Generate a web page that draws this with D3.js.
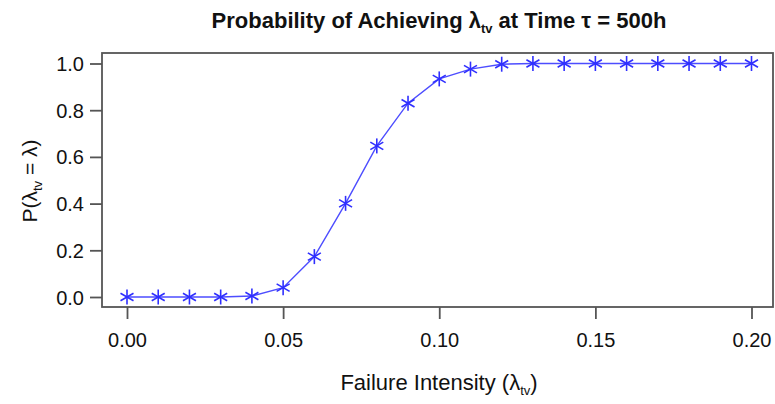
<!DOCTYPE html>
<html><head><meta charset="utf-8">
<script src="https://cdn.jsdelivr.net/npm/d3@7"></script>
<style>body{margin:0;background:#fff}text{font-family:"Liberation Sans",Arial,sans-serif}</style>
</head><body><svg id="c" width="775" height="404"></svg>
<script>
const lambdaValues = [0.00,0.01,0.02,0.03,0.04,0.05,0.06,0.07,0.08,0.09,0.10,0.11,0.12,0.13,0.14,0.15,0.16,0.17,0.18,0.19,0.20];
const probValues = [0,0,0,0,0.004,0.04,0.173,0.401,0.647,0.83,0.934,0.976,0.997,1,1,1,1,1,1,1,1];
const xTicks = [0,0.05,0.10,0.15,0.20];
const yTicks = [0,0.2,0.4,0.6,0.8,1.0];

const svg = d3.select("#c");
const frame = {l:102, t:53, r:773, b:307};
const x = d3.scaleLinear().domain([0,0.2]).range([127,751.5]);
const y = d3.scaleLinear().domain([0,1]).range([297,63.5]);
const axCol = "#555";

svg.append("rect").attr("x",frame.l).attr("y",frame.t).attr("width",frame.r-frame.l).attr("height",frame.b-frame.t)
  .attr("fill","none").attr("stroke",axCol).attr("stroke-width",1.8);

const xa = svg.append("g").attr("transform",`translate(0,${frame.b})`)
  .call(d3.axisBottom(x).tickValues(xTicks).tickFormat(d3.format(".2f")).tickSize(12).tickPadding(14));
const ya = svg.append("g").attr("transform",`translate(${frame.l},0)`)
  .call(d3.axisLeft(y).tickValues(yTicks).tickFormat(d3.format(".1f")).tickSize(12).tickPadding(6));
[xa,ya].forEach(a=>{
  a.select(".domain").remove();
  a.selectAll(".tick line").attr("stroke",axCol).attr("stroke-width",1.8);
  a.selectAll(".tick text").attr("fill","#111").style("font-size","20px");
});
ya.selectAll(".tick text").attr("dy","0.35em");

const data = lambdaValues.map((v,i)=>({x:v,y:probValues[i]}));
svg.append("path").datum(data).attr("fill","none").attr("stroke","#4d4dff").attr("stroke-width",1.4)
  .attr("d", d3.line().x(d=>x(d.x)).y(d=>y(d.y)));

const r = 7.5;
const m = svg.append("g").selectAll("g").data(data).join("g")
  .attr("transform",d=>`translate(${x(d.x)},${y(d.y)})`);
[[0,-r,0,r],[-r*0.866,-r*0.5,r*0.866,r*0.5],[-r*0.866,r*0.5,r*0.866,-r*0.5]].forEach(s=>{
  m.append("line").attr("x1",s[0]).attr("y1",s[1]).attr("x2",s[2]).attr("y2",s[3])
   .attr("stroke","#2f2fff").attr("stroke-width",1.6);
});

// Title
const t = svg.append("text").attr("x",439).attr("y",28).attr("text-anchor","middle")
  .style("font-size","22px").style("font-weight","bold").attr("fill","#111");
t.append("tspan").text("Probability of Achieving λ");
t.append("tspan").attr("dy",5).style("font-size","13px").text("tv");
t.append("tspan").attr("dy",-5).text(" at Time τ = 500h");

// X label
const xl = svg.append("text").attr("x",439).attr("y",390).attr("text-anchor","middle")
  .style("font-size","22px").attr("fill","#111");
xl.append("tspan").text("Failure Intensity (λ");
xl.append("tspan").attr("dy",5).style("font-size","13px").text("tv");
xl.append("tspan").attr("dy",-5).text(")");

// Y label
const yl = svg.append("text").attr("transform","translate(37,181) rotate(-90)").attr("text-anchor","middle")
  .style("font-size","21px").attr("fill","#111");
yl.append("tspan").text("P(λ");
yl.append("tspan").attr("dy",5).style("font-size","13px").text("tv");
yl.append("tspan").attr("dy",-5).text(" = λ)");
</script></body></html>
